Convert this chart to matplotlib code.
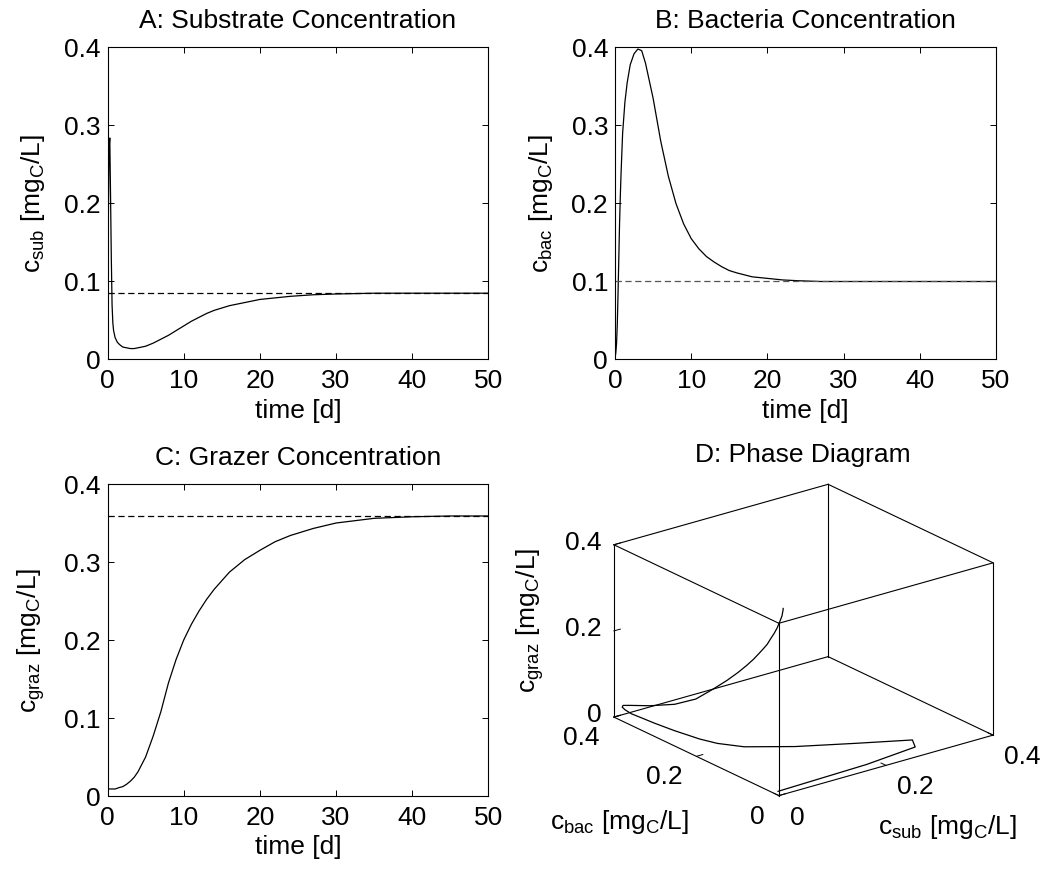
import numpy as np
import matplotlib
matplotlib.use("Agg")
import matplotlib.pyplot as plt
from itertools import product
from mpl_toolkits.mplot3d import proj3d

# values, one common time grid for all three states
time_d = [0, 0.1, 0.2, 0.3, 0.4, 0.5, 0.6, 0.7, 0.8, 1.0, 1.3, 1.6, 2.0, 2.5, 3.0,
          3.5, 4.0, 5, 6, 7, 8, 9, 10, 11, 12, 13, 14, 15, 16, 18, 20, 22, 24,
          27, 30, 35, 40, 45, 50]
c_sub = [0.0, 0.17, 0.27, 0.284, 0.21, 0.13, 0.07, 0.047, 0.037, 0.028, 0.022,
         0.019, 0.016, 0.015, 0.014, 0.014, 0.015, 0.017, 0.021, 0.026, 0.031,
         0.037, 0.043, 0.049, 0.054, 0.059, 0.063, 0.066, 0.069, 0.073, 0.077,
         0.079, 0.081, 0.083, 0.084, 0.085, 0.085, 0.085, 0.085]
c_bac = [0.002, 0.008, 0.02, 0.045, 0.085, 0.13, 0.175, 0.21, 0.24, 0.29, 0.33,
         0.355, 0.378, 0.392, 0.398, 0.396, 0.38, 0.335, 0.28, 0.235, 0.2, 0.174,
         0.155, 0.142, 0.132, 0.125, 0.119, 0.114, 0.111, 0.106, 0.104, 0.102,
         0.101, 0.1, 0.1, 0.1, 0.1, 0.1, 0.1]
c_graz = [0.009, 0.009, 0.009, 0.009, 0.009, 0.009, 0.009, 0.009, 0.009, 0.009,
          0.010, 0.011, 0.012, 0.015, 0.019, 0.024, 0.031, 0.05, 0.077, 0.108,
          0.145, 0.175, 0.2, 0.22, 0.237, 0.252, 0.265, 0.276, 0.287, 0.303,
          0.315, 0.326, 0.334, 0.343, 0.35, 0.356, 0.358, 0.359, 0.359]

# steady states (dashed lines)
sub_ss = 0.085
bac_ss = 0.1
graz_ss = 0.359

yticks = [0, 0.1, 0.2, 0.3, 0.4]
ytick_labels = ["0", "0.1", "0.2", "0.3", "0.4"]
xticks = [0, 10, 20, 30, 40, 50]
ticks3d = [0, 0.2, 0.4]
tick3d_labels = ["0", "0.2", "0.4"]

plt.rcParams["font.family"] = ["Liberation Sans", "DejaVu Sans"]
plt.rcParams["mathtext.fontset"] = "custom"
plt.rcParams["mathtext.rm"] = "Liberation Sans"
plt.rcParams["lines.scale_dashes"] = False

FS = 19
W, H = 1046, 872
PX = 0.72  # points per pixel at dpi 100


def unit_label(name):
    return r"c$_{\mathregular{%s}}$ [mg$_{\mathregular{C}}$/L]" % name


fig = plt.figure(figsize=(W / 100, H / 100), dpi=100)

panels = [
    ("A: Substrate Concentration", "sub", c_sub, sub_ss, "black", [107.5, 47.5]),
    ("B: Bacteria Concentration", "bac", c_bac, bac_ss, "#555555", [615, 47.5]),
    ("C: Grazer Concentration", "graz", c_graz, graz_ss, "black", [107.5, 484]),
]
aw, ah = 381, 312
for title, name, ys, ss, dcol, (x0, y0) in panels:
    ax = fig.add_axes([x0 / W, 1 - (y0 + ah) / H, aw / W, ah / H])
    ax.plot(time_d, ys, color="black", lw=0.9)
    ax.axhline(ss, color=dcol, lw=0.9, ls=(0, (4.5, 2.6)))
    ax.set_xlim(0, 50)
    ax.set_ylim(0, 0.4)
    ax.set_xticks(xticks)
    ax.set_yticks(yticks)
    ax.set_yticklabels(ytick_labels)
    ax.tick_params(direction="in", top=True, right=True, length=4, width=0.7,
                   labelsize=FS)
    ax.tick_params(axis="x", pad=7)
    ax.tick_params(axis="y", pad=5)
    for s in ax.spines.values():
        s.set_linewidth(0.8)
    ax.set_title(title, fontsize=FS, pad=14)
    ax.set_xlabel("time [d]", fontsize=FS, labelpad=4)
    ax.set_ylabel(unit_label(name), fontsize=FS, labelpad=12)

# --- D: phase diagram ---
ax3 = fig.add_axes([0.5283, 0.0453, 0.47, 0.43], projection="3d")
ax3.set_proj_type("ortho")
ax3.view_init(elev=21.5, azim=-127.6)
ax3.set_box_aspect((1, 1, 0.685), zoom=1.1)
lo, hi = 0.0, 0.4
ax3.set_xlim(lo, hi)
ax3.set_ylim(lo, hi)
ax3.set_zlim(lo, hi)
ax3.set_axis_off()

# box edges
for a, b in product([lo, hi], repeat=2):
    ax3.plot([lo, hi], [a, a], [b, b], color="black", lw=0.8, clip_on=False)
    ax3.plot([a, a], [lo, hi], [b, b], color="black", lw=0.8, clip_on=False)
    ax3.plot([a, a], [b, b], [lo, hi], color="black", lw=0.8, clip_on=False)

ax3.plot(c_sub, c_bac, c_graz, color="black", lw=0.9, clip_on=False)

M = ax3.get_proj()


def label3d(x, y, z, text, dx, dy, ha):
    # tick label placed at the projected tick point, shifted by pixels
    px, py, _ = proj3d.proj_transform(x, y, z, M)
    ax3.annotate(text, (px, py), xycoords="data", xytext=(dx * PX, -dy * PX),
                 textcoords="offset points", fontsize=FS, ha=ha, va="center",
                 annotation_clip=False)


tl = 0.012
for v, lab in zip(ticks3d, tick3d_labels):
    # sub axis along front-right edge (bac = 0)
    ax3.plot([v, v], [lo, tl], [lo, lo], color="black", lw=0.7, clip_on=False)
    label3d(v, lo, lo, lab, 11, 22, "left")
    # bac axis along front-left edge (sub = 0)
    ax3.plot([lo, tl], [v, v], [lo, lo], color="black", lw=0.7, clip_on=False)
    label3d(lo, v, lo, lab, -14, 21, "right")
    # graz axis on left vertical edge
    ax3.plot([lo, tl], [hi, hi], [v, v], color="black", lw=0.7, clip_on=False)
    label3d(lo, hi, v, lab, -12, -2, "right")

fig.text(803 / W, 1 - 455 / H, "D: Phase Diagram", fontsize=FS,
         ha="center", va="center")
fig.text(530 / W, 1 - 620 / H, unit_label("graz"), fontsize=FS, rotation=90,
         ha="center", va="center")
fig.text(620 / W, 1 - 822 / H, unit_label("bac"), fontsize=FS,
         ha="center", va="center")
fig.text(948 / W, 1 - 827 / H, unit_label("sub"), fontsize=FS,
         ha="center", va="center")

fig.savefig("out.png", dpi=100)
